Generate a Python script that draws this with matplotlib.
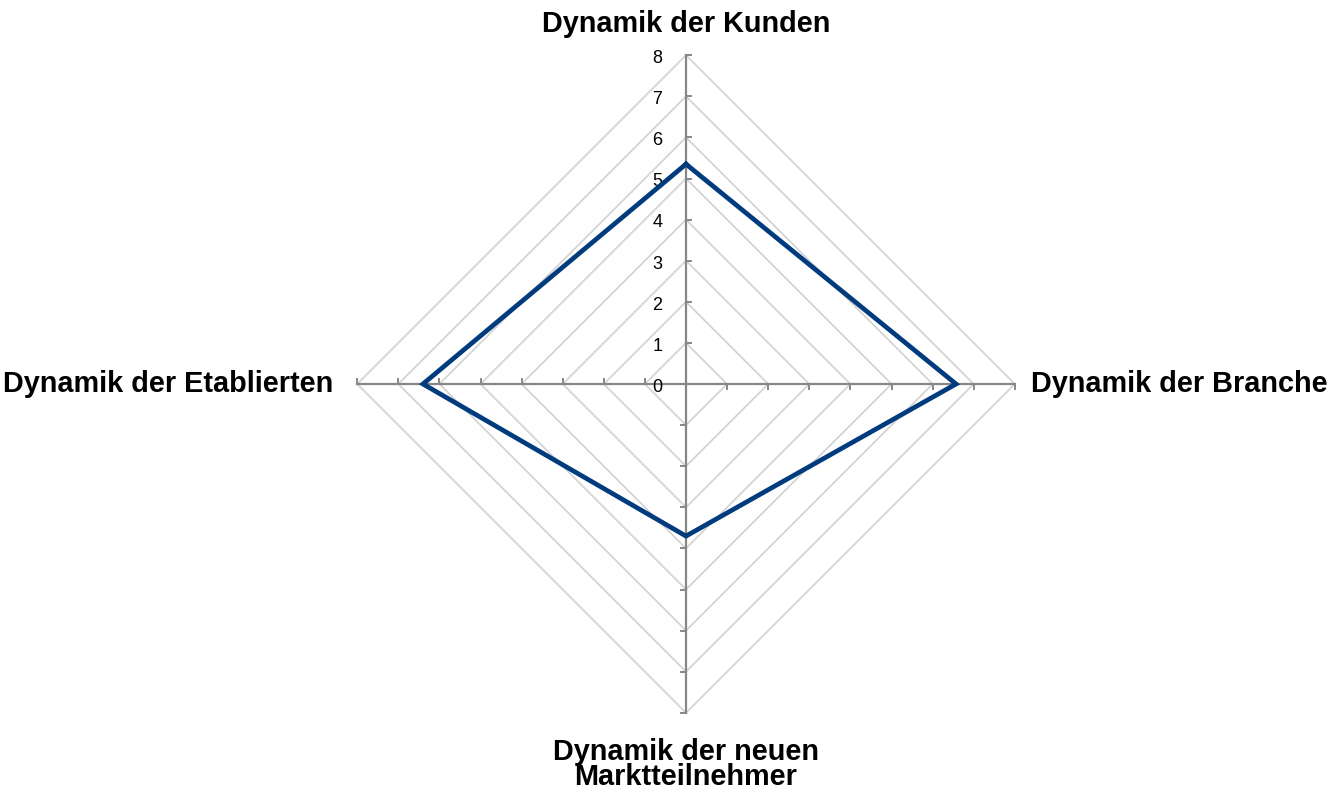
import numpy as np
import matplotlib
matplotlib.use("Agg")
import matplotlib.pyplot as plt

# ---- data ----
categories = ["Dynamik der Kunden", "Dynamik der Branche",
              "Dynamik der neuen\nMarktteilnehmer", "Dynamik der Etablierten"]
values = [5.35, 6.57, 3.7, 6.4]
tick_values = [0, 1, 2, 3, 4, 5, 6, 7, 8]
tick_labels = ["0", "1", "2", "3", "4", "5", "6", "7", "8"]
r_max = 8

plt.rcParams['font.family'] = ['Liberation Sans', 'DejaVu Sans']

W, H = 1336, 793
cx, cy = 686, 384          # centre in pixels (from top-left)
s = 41.1                   # pixels per unit

fig = plt.figure(figsize=(W / 100, H / 100), dpi=100)
ax = fig.add_axes([0, 0, 1, 1])
ax.set_xlim(-cx / s, (W - cx) / s)
ax.set_ylim((cy - H) / s, cy / s)
ax.axis('off')

n = len(categories)
angles = np.arange(n) * 2 * np.pi / n      # clockwise from top
dx = np.sin(angles)
dy = np.cos(angles)

def xy(r, i):
    return r * dx[i], r * dy[i]

# grid diamonds
for k in tick_values[1:]:
    xs = [k * dx[i] for i in list(range(n)) + [0]]
    ys = [k * dy[i] for i in list(range(n)) + [0]]
    ax.plot(xs, ys, color='#D4D4D4', lw=1.3, zorder=1, solid_capstyle='butt')

# axes spokes and ticks
tl = 0.11
for i in range(n):
    ax.plot([0, r_max * dx[i]], [0, r_max * dy[i]], color='#878787', lw=1.6, zorder=2)
    # tick direction: axis direction rotated 90 deg clockwise
    tx, ty = dy[i], -dx[i]
    for k in tick_values[1:]:
        x0, y0 = xy(k, i)
        ax.plot([x0, x0 + tl * tx], [y0, y0 + tl * ty], color='#878787', lw=1.4, zorder=2)

# value labels along top axis
for v, lab in zip(tick_values, tick_labels):
    ax.text(-0.58, v - 0.19, lab, ha='right', va='baseline', fontsize=13, color='black')

# data polygon
xs = [values[i] * dx[i] for i in list(range(n)) + [0]]
ys = [values[i] * dy[i] for i in list(range(n)) + [0]]
ax.plot(xs, ys, color='#003B7E', lw=3.4, zorder=3, solid_joinstyle='miter')

# category labels
fs = 20.8
ax.text(0, (cy - 32) / s, categories[0], ha='center', va='baseline',
        fontsize=fs, fontweight='bold')
ax.text((1031 - cx) / s, (cy - 392) / s, categories[1], ha='left', va='baseline',
        fontsize=fs, fontweight='bold')
ax.text(0, (cy - 785) / s, categories[2], ha='center', va='baseline',
        fontsize=fs, fontweight='bold', multialignment='center', linespacing=0.88)
ax.text((333 - cx) / s, (cy - 392) / s, categories[3], ha='right', va='baseline',
        fontsize=fs, fontweight='bold')

fig.savefig('out.png', dpi=100)
